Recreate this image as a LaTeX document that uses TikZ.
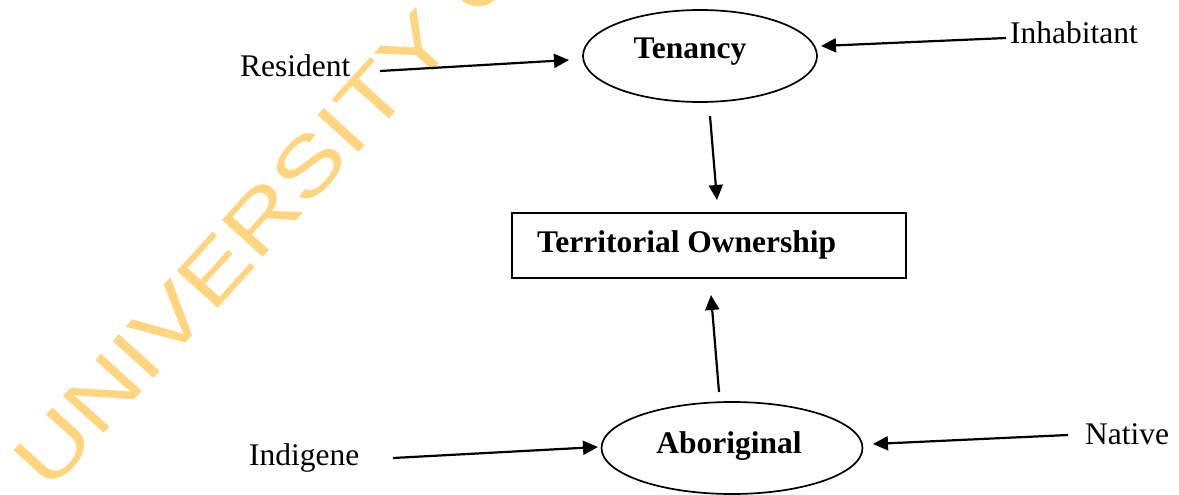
\documentclass[tikz,border=0pt]{standalone}
\usepackage{fontspec}
\setmainfont{Liberation Serif}
\newfontfamily\wmfont{Liberation Sans}
\usetikzlibrary{shapes.geometric,arrows.meta}
\definecolor{wmorange}{RGB}{255,213,128}
\tikzset{
  arr/.style={line width=2.2pt, -{Triangle[length=15pt,width=14pt]}},
  oval/.style={ellipse, draw=black, line width=1.7pt, inner sep=0pt},
  word/.style={font=\fontsize{31.5}{36}\selectfont},
  bword/.style={font=\fontsize{31.5}{36}\selectfont\bfseries}
}
\begin{document}
\begin{tikzpicture}[x=1pt,y=-1pt]
\useasboundingbox (0,0) rectangle (1179,495);
% watermark
\node[text=wmorange, font=\wmfont\fontsize{80}{84}\selectfont, rotate=47.8,
  anchor=base west, inner sep=0pt] (wm) at (49,494) {\scalebox{1.27}[1]{UNIVERSITY O}};
% main nodes
\node[oval, minimum width=234pt, minimum height=92pt] (ten) at (700,56) {};
\node[bword] (tenl) at (690,52) {Tenancy};
\node[draw=black, line width=1.7pt, minimum width=394pt, minimum height=65pt] (own) at (709,245.5) {};
\node[bword, anchor=west, inner sep=0pt] (ownl) at (537,245) {Territorial Ownership};
\node[oval, minimum width=261pt, minimum height=92pt] (abo) at (732,448) {};
\node[bword] (abol) at (729,446) {Aboriginal};
% outer words
\node[word, anchor=west, inner sep=0pt] (res) at (240,66) {Resident};
\node[word, anchor=west, inner sep=0pt] (inh) at (1010,33) {Inhabitant};
\node[word, anchor=west, inner sep=0pt] (ind) at (249,458) {Indigene};
\node[word, anchor=west, inner sep=0pt] (nat) at (1085,434) {Native};
% arrow ends
\coordinate (r1) at (380,71);  \coordinate (r2) at (569,60);
\coordinate (i1) at (1006,38); \coordinate (i2) at (821,46);
\coordinate (t1) at (710,116); \coordinate (t2) at (717,200);
\coordinate (a1) at (719,392); \coordinate (a2) at (711,295);
\coordinate (g1) at (393,458); \coordinate (g2) at (598,447);
\coordinate (n1) at (1068,435); \coordinate (n2) at (873,444);
\draw[arr] (r1)--(r2);
\draw[arr] (i1)--(i2);
\draw[arr] (t1)--(t2);
\draw[arr] (a1)--(a2);
\draw[arr] (g1)--(g2);
\draw[arr] (n1)--(n2);
\end{tikzpicture}
\end{document}
